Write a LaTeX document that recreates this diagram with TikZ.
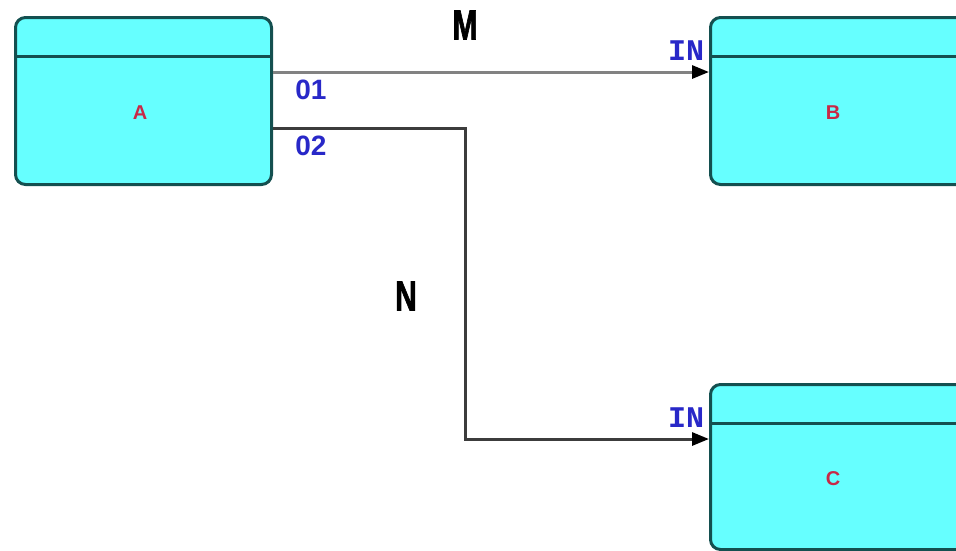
\documentclass[tikz,border=0pt]{standalone}
\usepackage{fontspec}
\setmainfont{Liberation Sans}
\newfontfamily\bigfont{Liberation Sans Bold}[FakeStretch=0.72,FakeBold=1.5]
\newfontfamily\portfont{Liberation Mono Bold}
\usetikzlibrary{arrows.meta}
\definecolor{boxfill}{RGB}{102,255,255}
\definecolor{boxline}{RGB}{20,80,80}
\definecolor{portblue}{RGB}{40,40,200}
\definecolor{namered}{RGB}{200,40,70}
\definecolor{linegray}{RGB}{130,130,130}
\definecolor{linedark}{RGB}{60,60,60}
\tikzset{
  block/.style={draw=boxline, fill=boxfill, line width=3pt, rounded corners=10pt,
    rectangle, anchor=north west, inner sep=0pt},
  divider/.style={draw=boxline, line width=3pt},
  bname/.style={text=namered, font=\bfseries\fontsize{20}{20}\selectfont},
  port/.style={text=portblue, font=\bfseries\fontsize{28}{28}\selectfont},
  inport/.style={text=portblue, font=\portfont\fontsize{30}{30}\selectfont},
  flowname/.style={text=black, font=\bigfont\fontsize{42}{42}\selectfont},
  flow/.style={line width=3pt, -{Triangle[length=17pt,width=13pt,color=black]}},
}
\begin{document}
\begin{tikzpicture}[x=1pt,y=-1pt]
\useasboundingbox (0,0) rectangle (956,550);
\clip (0,0) rectangle (956,550);
% boxes
\node[block, minimum width=256pt, minimum height=167pt] (A) at (14,16) {};
\node[block, minimum width=280pt, minimum height=167pt] (B) at (709,16) {};
\node[block, minimum width=280pt, minimum height=165pt] (C) at (709,383) {};
\draw[divider] ([yshift=-40pt]A.north west) -- ([yshift=-40pt]A.north east);
\draw[divider] ([yshift=-40pt]B.north west) -- ([yshift=-40pt]B.north east);
\draw[divider] ([yshift=-40pt]C.north west) -- ([yshift=-40pt]C.north east);
% names
\node[bname] (la) at (140,113) {A};
\node[bname] (lb) at (833,113) {B};
\node[bname] (lc) at (833,479) {C};
% connectors
\coordinate (bend1) at (465,128);
\coordinate (bend2) at (465,439);
\draw[flow, draw=linegray] ([yshift=-56pt]A.north east) -- ([yshift=-56pt]B.north west);
\draw[flow, draw=linedark] ([yshift=-112pt]A.north east) -- (bend1) -- (bend2) -- ([yshift=-56pt]C.north west);
% labels
\node[flowname] (m) at (465,25) {M};
\node[flowname] (n) at (406,296) {N};
\node[port] (o1) at (311,90) {01};
\node[port] (o2) at (311,146) {02};
\node[inport] (i1) at (686,51) {IN};
\node[inport] (i2) at (686,418) {IN};
\end{tikzpicture}
\end{document}
